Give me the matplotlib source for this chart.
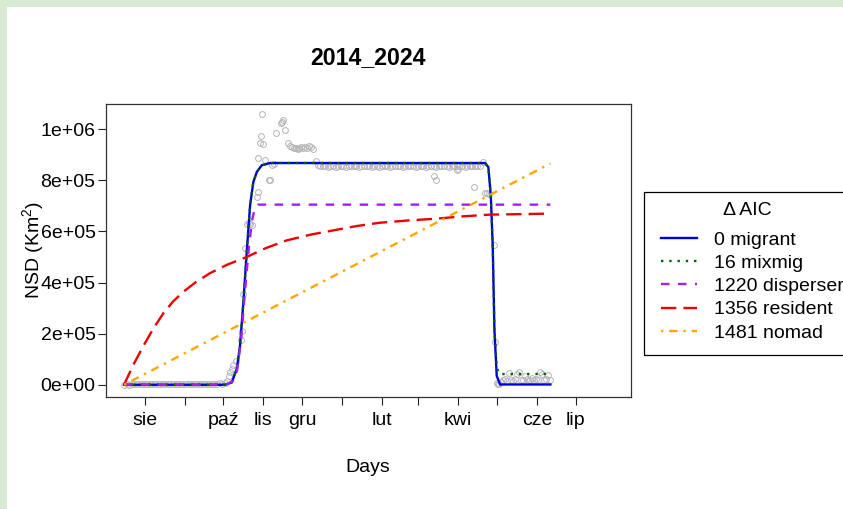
import matplotlib.pyplot as plt
from matplotlib.patches import Rectangle
from matplotlib.lines import Line2D

plt.rcParams['font.family'] = ['Liberation Sans', 'DejaVu Sans']
plt.rcParams['mathtext.fontset'] = 'custom'
plt.rcParams['mathtext.rm'] = 'Liberation Sans'
plt.rcParams['mathtext.it'] = 'Liberation Sans:italic'

# x axis: days since start of track (16 Jul), month ticks (Polish names)
tick_days = [16, 47, 77, 108, 138, 169, 200, 228, 259, 289, 320, 350]
tick_labels = ['sie', '', 'paź', 'lis', 'gru', '', 'lut', '', 'kwi', '', 'cze', 'lip']
y_ticks = [0, 2e5, 4e5, 6e5, 8e5, 1e6]
y_labels = ['0e+00', '2e+05', '4e+05', '6e+05', '8e+05', '1e+06']

# observed NSD (thousand km2)
start_days = list(range(0, 80, 2))
start_vals = [0, 1, 0, 2, 1, 1, 2, 3, 1, 2, 2, 1, 3, 2, 1, 2, 4, 3, 2, 1,
              2, 3, 2, 2, 1, 3, 4, 2, 3, 2, 1, 2, 3, 4, 3, 2, 3, 5, 4, 6]
rise_days = [80, 81.5, 82.5, 83.5, 84.5, 86.5, 91, 91.7, 92.3, 93.8, 95.5, 96.5,
             97.5, 99, 103, 103.5, 104, 105, 106, 107, 108, 109, 112, 113,
             115, 116, 118, 121.5, 122.5, 123.5, 125]
rise_vals = [14, 35, 48, 62, 76, 94, 175, 212, 356, 536, 628, 632,
             630, 626, 735, 754, 888, 948, 975, 1058, 941, 879, 800, 800,
             862, 864, 985, 1025, 1030, 1035, 996]
cluster_days = [127, 128.5, 130, 131.5, 133, 134.5, 136, 137.5, 139, 140.5,
                142, 143.5, 145, 146.5, 149, 150]
cluster_vals = [946, 935, 930, 925, 928, 922, 926, 930, 925, 932,
                928, 935, 930, 924, 875, 862]
plateau_days = list(range(152, 278, 2))
plateau_vals = [856, 855, 857, 854, 856, 855, 853, 856, 857, 855,
                854, 856, 855, 857, 856, 854, 855, 856, 857, 855,
                853, 855, 856, 854, 857, 856, 855, 854, 856, 855,
                857, 855, 854, 856, 855, 857, 856, 854, 855, 856,
                855, 853, 856, 857, 855, 854, 856, 855, 857, 856,
                854, 855, 856, 855, 857, 856, 854, 855, 856, 857,
                855, 856, 858]
outlier_days = [240.5, 242, 258, 259, 271.6, 278.5, 280, 281.5, 283]
outlier_vals = [816, 803, 839, 845, 774, 872, 750, 752, 748]
descent_days = [286.5, 287.5, 289, 290, 291]
descent_vals = [548, 166, 5, 3, 2]
end_days = [292.5, 294, 295.5, 297, 298.5, 300, 301.5, 303, 304.5, 306, 307.5,
            309, 310.5, 312, 313.5, 315, 316.5, 318, 319.5, 321, 322.5, 324,
            325.5, 327, 328.5, 330]
end_vals = [12, 18, 22, 16, 46, 20, 15, 24, 43, 48, 20,
            18, 35, 22, 16, 20, 25, 18, 22, 20, 51, 43,
            18, 22, 38, 20]

# fitted curves (thousand km2)
migrant_days = [0, 78.3, 83.5, 87.4, 89.9, 92.5, 95.1, 97.7, 100.2, 102.9, 106.7,
                113.2, 279.8, 282.4, 284.3, 285.8, 287.1, 288.9, 291.5, 330.5]
migrant_vals = [0, 0, 9, 62, 153, 323, 519, 702, 793, 833, 859,
                868, 868, 852, 741, 545, 218, 35, 1, 1]
mixmig_days = [0, 78.3, 83.5, 87.4, 89.9, 92.5, 95.1, 97.7, 100.2, 102.9, 106.7,
               113.2, 279.8, 282.4, 284.3, 285.8, 287.1, 288.9, 290.5, 292.5, 330.5]
mixmig_vals = [0, 0, 9, 62, 153, 323, 519, 702, 793, 833, 859,
               868, 868, 852, 741, 545, 218, 70, 44, 42, 42]
disperser_days = [0, 79, 84.7, 87.6, 90.7, 93.8, 96.9, 99.2, 101.6, 103.9, 330.5]
disperser_vals = [0, 0, 16, 55, 173, 369, 545, 643, 694, 705, 705]
resident_days = [0, 7.2, 15, 22.7, 30.5, 38, 46, 56, 66.7, 80, 95, 110, 126,
                 145, 162, 180, 198, 220, 242, 262, 284, 310, 330.5]
resident_vals = [0, 78, 152, 220, 280, 326, 364, 403, 437, 470, 500, 535, 565,
                 588, 604, 621, 634, 643, 650, 659, 666, 668, 670]
nomad_days = [0, 330.5]
nomad_vals = [0, 866]

obs_days = start_days + rise_days + cluster_days + plateau_days + outlier_days + descent_days + end_days
obs_vals = start_vals + rise_vals + cluster_vals + plateau_vals + outlier_vals + descent_vals + end_vals

def k(vals):
    return [v * 1000 for v in vals]

W, H = 843, 509
fig = plt.figure(figsize=(W / 100, H / 100), dpi=100)
fig.patch.set_facecolor('white')
green = '#d9ead3'
fig.add_artist(Rectangle((0, 0), 7 / W, 1, transform=fig.transFigure, facecolor=green, edgecolor='none'))
fig.add_artist(Rectangle((0, 1 - 7 / H), 1, 7 / H, transform=fig.transFigure, facecolor=green, edgecolor='none'))

ax = fig.add_axes([106 / W, 1 - 397 / H, (631 - 106) / W, (397 - 104) / H])

ax.plot(obs_days, k(obs_vals), 'o', mfc='none', mec='#b4b4b4', ms=4.2, mew=0.7, zorder=1)

lw = 1.7
styles = [
    ('#0000dd', None),
    ('#006400', (1, 2.5)),
    ('#a020f0', (3.6, 3.6)),
    ('#ee0000', (6.5, 3)),
    ('#ffa500', (1, 2.5, 3.5, 2.5)),
]
curves = [(migrant_days, migrant_vals), (mixmig_days, mixmig_vals),
          (disperser_days, disperser_vals), (resident_days, resident_vals),
          (nomad_days, nomad_vals)]
handles = []
for i, ((d, v), (col, dash)) in enumerate(zip(curves, styles)):
    kw = dict(color=col, lw=lw)
    if dash:
        kw['dashes'] = dash
    ax.plot(d, k(v), zorder=2 + i, **kw)
    handles.append(Line2D([], [], **kw))

ax.set_xlim(-14, 393)
ax.set_ylim(-48000, 1.099e6)
ax.set_xticks(tick_days)
ax.set_xticklabels(tick_labels)
ax.set_yticks(y_ticks)
ax.set_yticklabels(y_labels)
ax.tick_params(axis='both', direction='out', length=5.5, width=0.8, labelsize=14, color='#222222')
ax.tick_params(axis='x', pad=5)
ax.tick_params(axis='y', pad=2)
for s in ax.spines.values():
    s.set_linewidth(0.9)
    s.set_color('#333333')

fig.text(368 / W, 1 - 58 / H, '2014_2024', ha='center', va='center', fontsize=16.7, fontweight='bold')
fig.text(368 / W, 1 - 467 / H, 'Days', ha='center', va='center', fontsize=14)
fig.text(33 / W, 1 - 250 / H, 'NSD (Km$^2$)', ha='center', va='center', rotation=90, fontsize=14)

# legend box and title drawn by hand, entries by ax.legend
fig.add_artist(Rectangle((644 / W, 1 - 355 / H), 230 / W, 163 / H, transform=fig.transFigure,
                         facecolor='none', edgecolor='black', lw=0.9))
fig.text(747 / W, 1 - 210 / H, 'Δ AIC', ha='center', va='center', fontsize=14)
labels = ['0 migrant', '16 mixmig', '1220 disperser', '1356 resident', '1481 nomad']
ax.legend(handles, labels, loc='upper left', bbox_to_anchor=(661 / W, 1 - 231 / H),
          bbox_transform=fig.transFigure, fontsize=14, frameon=False,
          handlelength=1.85, handletextpad=0.87, borderpad=0, labelspacing=0.29,
          borderaxespad=0)

fig.savefig('out.png', dpi=100)
